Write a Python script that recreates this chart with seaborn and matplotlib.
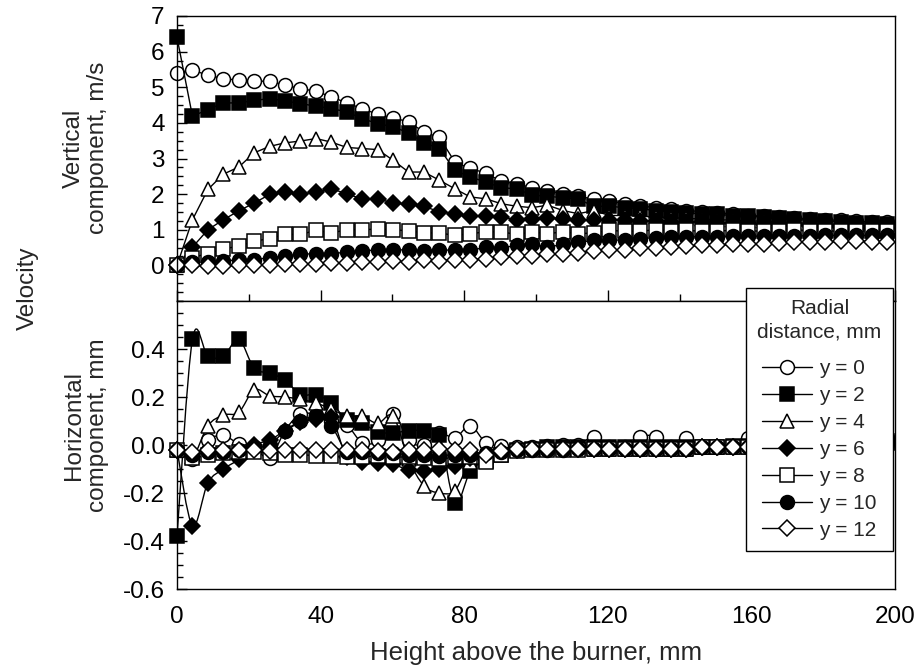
import matplotlib
matplotlib.use("Agg")
import matplotlib.pyplot as plt
import seaborn as sns
import pandas as pd
from matplotlib.ticker import MultipleLocator, FormatStrFormatter
from matplotlib.path import Path
from matplotlib.patches import PathPatch

# ---------------- data ----------------
height_mm = [0.0, 4.3, 8.6, 12.9, 17.2, 21.5, 25.8, 30.1, 34.4, 38.7, 43.0, 47.3,
             51.6, 55.9, 60.2, 64.5, 68.8, 73.1, 77.4, 81.7, 86.0, 90.3, 94.6, 98.9,
             103.2, 107.5, 111.8, 116.1, 120.4, 124.7, 129.0, 133.3, 137.6, 141.9,
             146.2, 150.5, 154.8, 159.1, 163.4, 167.7, 172.0, 176.3, 180.6, 184.9,
             189.2, 193.5, 197.8]

series_labels = ["y = 0", "y = 2", "y = 4", "y = 6", "y = 8", "y = 10", "y = 12"]

vert_y0 = [5.40, 5.48, 5.34, 5.24, 5.20, 5.17, 5.17, 5.06, 4.96, 4.89,
           4.73, 4.56, 4.40, 4.24, 4.14, 4.03, 3.74, 3.59, 2.90, 2.72,
           2.59, 2.36, 2.29, 2.18, 2.09, 2.01, 1.94, 1.86, 1.81, 1.73,
           1.67, 1.62, 1.58, 1.54, 1.51, 1.47, 1.45, 1.40, 1.38, 1.36,
           1.33, 1.30, 1.28, 1.26, 1.24, 1.22, 1.21]
vert_y2 = [6.40, 4.19, 4.37, 4.56, 4.56, 4.63, 4.68, 4.62, 4.54, 4.47,
           4.40, 4.31, 4.12, 3.98, 3.89, 3.72, 3.44, 3.28, 2.67, 2.48,
           2.34, 2.18, 2.15, 1.97, 1.94, 1.90, 1.86, 1.66, 1.66, 1.62,
           1.59, 1.54, 1.50, 1.47, 1.45, 1.43, 1.40, 1.38, 1.36, 1.34,
           1.30, 1.26, 1.24, 1.22, 1.20, 1.18, 1.16]
vert_y4 = [0.00, 1.28, 2.13, 2.56, 2.76, 3.16, 3.34, 3.44, 3.49, 3.56,
           3.46, 3.31, 3.28, 3.25, 2.95, 2.62, 2.62, 2.39, 2.15, 1.92,
           1.87, 1.73, 1.66, 1.62, 1.69, 1.54, 1.45, 1.54, 1.40, 1.40,
           1.38, 1.36, 1.34, 1.32, 1.30, 1.28, 1.27, 1.25, 1.24, 1.22,
           1.20, 1.18, 1.16, 1.14, 1.12, 1.10, 1.08]
vert_y6 = [0.00, 0.51, 1.00, 1.28, 1.53, 1.75, 1.99, 2.05, 2.01, 2.05,
           2.15, 2.01, 1.86, 1.87, 1.75, 1.72, 1.66, 1.50, 1.45, 1.38,
           1.40, 1.36, 1.28, 1.31, 1.34, 1.31, 1.26, 1.28, 1.27, 1.26,
           1.25, 1.24, 1.23, 1.22, 1.21, 1.20, 1.19, 1.18, 1.16, 1.15,
           1.14, 1.12, 1.10, 1.08, 1.06, 1.05, 1.04]
vert_y8 = [0.00, 0.22, 0.33, 0.47, 0.53, 0.68, 0.75, 0.87, 0.87, 0.98,
           0.91, 1.00, 1.00, 1.02, 1.00, 0.97, 0.91, 0.91, 0.84, 0.89,
           0.94, 0.94, 0.87, 0.94, 0.89, 0.94, 0.89, 0.91, 0.98, 0.96,
           0.96, 1.00, 0.97, 0.98, 0.96, 0.97, 0.98, 0.97, 0.96, 0.97,
           0.98, 0.97, 0.96, 0.97, 0.97, 0.96, 0.96]
vert_y10 = [0.00, 0.09, 0.09, 0.12, 0.16, 0.16, 0.22, 0.25, 0.31, 0.33,
            0.33, 0.37, 0.40, 0.44, 0.44, 0.43, 0.40, 0.44, 0.42, 0.42,
            0.51, 0.49, 0.56, 0.59, 0.51, 0.59, 0.65, 0.70, 0.70, 0.72,
            0.75, 0.78, 0.80, 0.80, 0.81, 0.81, 0.82, 0.82, 0.82, 0.83,
            0.83, 0.83, 0.84, 0.84, 0.84, 0.84, 0.85]
vert_y12 = [0.00, 0.00, -0.02, -0.02, 0.00, 0.00, 0.01, 0.03, 0.05, 0.05,
            0.07, 0.07, 0.09, 0.09, 0.12, 0.10, 0.14, 0.13, 0.16, 0.16,
            0.19, 0.23, 0.25, 0.25, 0.31, 0.33, 0.36, 0.40, 0.42, 0.44,
            0.50, 0.50, 0.51, 0.53, 0.56, 0.56, 0.59, 0.61, 0.61, 0.63,
            0.65, 0.65, 0.65, 0.68, 0.68, 0.66, 0.66]

hor_y0 = [-0.02, -0.06, 0.02, 0.04, 0.005, -0.01, -0.055, 0.06, 0.13, 0.125,
          0.10, 0.083, 0.01, 0.02, 0.13, 0.02, 0.0, 0.05, 0.03, 0.08,
          0.01, -0.005, -0.01, -0.01, -0.005, 0.0, 0.0, 0.035, -0.01, -0.01,
          0.035, 0.035, -0.01, 0.03, -0.01, -0.01, -0.005, 0.03, 0.0, 0.0,
          0.005, 0.005, 0.01, 0.01, 0.015, 0.02, 0.025]
hor_y2 = [-0.38, 0.44, 0.37, 0.37, 0.44, 0.32, 0.30, 0.27, 0.21, 0.21,
          0.175, 0.105, 0.09, 0.055, 0.05, 0.06, 0.06, 0.04, -0.24, -0.11,
          -0.065, -0.04, -0.02, -0.015, -0.01, -0.01, -0.01, -0.01, -0.01, -0.01,
          -0.01, -0.01, -0.01, -0.01, -0.01, -0.01, -0.005, -0.005, 0.0, 0.0,
          0.0, 0.005, 0.005, 0.01, 0.01, 0.01, 0.015]
hor_y4 = [-0.02, -0.05, 0.08, 0.125, 0.136, 0.23, 0.205, 0.20, 0.19, 0.175,
          0.15, 0.12, 0.12, 0.09, 0.12, -0.06, -0.17, -0.20, -0.19, -0.07,
          -0.05, -0.03, -0.02, -0.015, -0.015, -0.015, -0.015, -0.015, -0.015, -0.015,
          -0.015, -0.015, -0.015, -0.015, -0.01, -0.01, -0.01, -0.01, -0.005, -0.005,
          0.0, 0.0, 0.0, 0.005, 0.005, 0.01, 0.01]
hor_y6 = [-0.02, -0.336, -0.158, -0.10, -0.06, 0.0, 0.02, 0.06, 0.094, 0.108,
          0.115, -0.05, -0.07, -0.075, -0.08, -0.105, -0.11, -0.10, -0.088, -0.055,
          -0.04, -0.03, -0.02, -0.015, -0.015, -0.015, -0.015, -0.015, -0.015, -0.015,
          -0.015, -0.015, -0.015, -0.015, -0.01, -0.01, -0.01, -0.01, -0.005, -0.005,
          0.0, 0.0, 0.0, 0.005, 0.005, 0.01, 0.01]
hor_y8 = [-0.02, -0.055, -0.04, -0.035, -0.03, -0.03, -0.035, -0.04, -0.04, -0.045,
          -0.045, -0.05, -0.05, -0.045, -0.05, -0.05, -0.055, -0.06, -0.05, -0.05,
          -0.07, -0.04, -0.025, -0.02, -0.02, -0.02, -0.02, -0.015, -0.015, -0.015,
          -0.015, -0.015, -0.015, -0.015, -0.01, -0.01, -0.01, -0.01, -0.005, -0.005,
          0.0, 0.0, 0.0, 0.005, 0.005, 0.01, 0.01]
hor_y10 = [-0.02, -0.04, -0.03, -0.03, -0.02, -0.01, 0.0, 0.06, 0.10, 0.12,
           0.08, -0.03, -0.03, -0.035, -0.035, -0.04, -0.04, -0.045, -0.04, -0.04,
           -0.035, -0.03, -0.02, -0.02, -0.02, -0.02, -0.015, -0.015, -0.015, -0.015,
           -0.015, -0.015, -0.015, -0.015, -0.01, -0.01, -0.01, -0.01, -0.005, -0.005,
           0.0, 0.0, 0.0, 0.005, 0.005, 0.01, 0.01]
hor_y12 = [-0.02, -0.03, -0.02, -0.02, -0.02, -0.02, -0.025, -0.02, -0.02, -0.02,
           -0.02, -0.02, -0.02, -0.025, -0.03, -0.02, -0.02, -0.017, -0.02, -0.02,
           -0.04, -0.025, -0.017, -0.015, -0.015, -0.015, -0.015, -0.015, -0.015, -0.015,
           -0.015, -0.015, -0.015, -0.015, -0.01, -0.01, -0.01, -0.01, -0.005, -0.005,
           0.0, 0.0, 0.0, 0.005, 0.005, 0.01, 0.01]

vertical = [vert_y0, vert_y2, vert_y4, vert_y6, vert_y8, vert_y10, vert_y12]
horizontal = [hor_y0, hor_y2, hor_y4, hor_y6, hor_y8, hor_y10, hor_y12]

# ---------------- styles ----------------
marker_shapes = ["o", "s", "^", "D", "s", "o", "D"]
marker_faces = ["white", "black", "white", "black", "white", "black", "white"]
marker_sizes = [10, 10, 10.5, 8, 10, 10, 8.5]

sns.set_theme(style="white")
plt.rcParams["font.family"] = ["Liberation Sans", "DejaVu Sans"]
plt.rcParams["mathtext.default"] = "regular"

W, H = 919, 668
fig = plt.figure(figsize=(W / 100, H / 100), dpi=100)
fig.patch.set_facecolor("white")

x0, x1 = 177, 895
ax_top = fig.add_axes([x0 / W, 1 - 301 / H, (x1 - x0) / W, 285 / H])
ax_bot = fig.add_axes([x0 / W, 1 - 589 / H, (x1 - x0) / W, 288 / H])


def smooth_path(xs, ys):
    """Smoothed connecting curve (cubic Bezier through the data points)."""
    pts = list(zip(xs, ys))
    n = len(pts)
    verts = [pts[0]]
    codes = [Path.MOVETO]
    for i in range(n - 1):
        p0 = pts[i - 1] if i > 0 else pts[i]
        p1 = pts[i]
        p2 = pts[i + 1]
        p3 = pts[i + 2] if i + 2 < n else pts[i + 1]
        c1 = (p1[0] + (p2[0] - p0[0]) / 6, p1[1] + (p2[1] - p0[1]) / 6)
        c2 = (p2[0] - (p3[0] - p1[0]) / 6, p2[1] - (p3[1] - p1[1]) / 6)
        verts += [c1, c2, p2]
        codes += [Path.CURVE4] * 3
    return Path(verts, codes)


def draw(ax, data_list, smooth=False):
    for i, (lab, vals, m, fc, ms) in enumerate(zip(series_labels, data_list,
                                                   marker_shapes, marker_faces,
                                                   marker_sizes)):
        df = pd.DataFrame({"x": height_mm, "v": vals})
        z = 2 + i * 0.01
        if smooth:
            ax.add_patch(PathPatch(smooth_path(height_mm, vals), facecolor="none",
                                   edgecolor="black", lw=1.0, zorder=z))
        sns.lineplot(data=df, x="x", y="v", ax=ax, color="black",
                     lw=0 if smooth else 1.0,
                     marker=m, markersize=ms, markerfacecolor=fc,
                     markeredgecolor="black", markeredgewidth=1.1,
                     label=lab, sort=False, estimator=None, errorbar=None,
                     clip_on=False, legend=False, zorder=z + 0.005)


draw(ax_top, vertical)
draw(ax_bot, horizontal, smooth=True)

TICK_FS = 17.5
for ax in (ax_top, ax_bot):
    ax.set_xlim(0, 200)
    ax.set_xlabel("")
    ax.set_ylabel("")
    for sp in ax.spines.values():
        sp.set_visible(True)
        sp.set_color("black")
        sp.set_linewidth(1.0)
    ax.xaxis.set_major_locator(MultipleLocator(40))
    ax.xaxis.set_minor_locator(MultipleLocator(20))
    ax.tick_params(axis="both", which="both", direction="in", colors="black",
                   labelsize=TICK_FS, width=1.0, pad=9)
    ax.tick_params(axis="y", which="major", length=7, left=True, right=False)
    ax.tick_params(axis="y", which="minor", length=4, left=True, right=False)

ax_top.set_ylim(-1, 7)
ax_top.set_yticks([0, 1, 2, 3, 4, 5, 6, 7])
ax_top.yaxis.set_minor_locator(MultipleLocator(0.25))
ax_top.tick_params(axis="x", which="major", length=8, bottom=True, top=False,
                   labelbottom=False)
ax_top.tick_params(axis="x", which="minor", length=5, bottom=True, top=False)

ax_bot.set_ylim(-0.6, 0.6)
ax_bot.set_yticks([-0.6, -0.4, -0.2, 0.0, 0.2, 0.4])
ax_bot.yaxis.set_major_formatter(FormatStrFormatter("%.1f"))
ax_bot.yaxis.set_minor_locator(MultipleLocator(0.05))
ax_bot.set_xticks([0, 40, 80, 120, 160, 200])
ax_bot.tick_params(axis="x", which="both", length=0, bottom=True, top=False,
                   labelbottom=True, pad=12)

# axis titles
fig.text(536 / W, 1 - 653 / H, "Height above the burner, mm", ha="center",
         va="center", fontsize=18.5)
fig.text(28 / W, 1 - 288 / H, "Velocity", ha="center", va="center",
         rotation=90, fontsize=TICK_FS)
fig.text(86 / W, 1 - 148 / H, "Vertical\ncomponent, m/s", ha="center",
         va="center", rotation=90, fontsize=TICK_FS, linespacing=1.1,
         multialignment="center")
fig.text(86 / W, 1 - 425 / H, "Horizontal\ncomponent, mm", ha="center",
         va="center", rotation=90, fontsize=TICK_FS, linespacing=1.1,
         multialignment="center")

# legend
handles = ax_top.get_lines()[:len(series_labels)]
leg = ax_bot.legend(handles, series_labels, title="Radial\ndistance, mm",
                    loc="upper right", bbox_to_anchor=(893 / W, 1 - 288 / H),
                    bbox_transform=fig.transFigure, fontsize=15,
                    title_fontsize=15, frameon=True, fancybox=False,
                    framealpha=1, edgecolor="black", borderpad=0.55,
                    handlelength=2.4, handletextpad=0.35, labelspacing=0.38,
                    borderaxespad=0)
leg.get_frame().set_linewidth(1.0)
leg.get_title().set_multialignment("center")
leg.get_title().set_linespacing(1.25)
leg._legend_box.sep = 13
leg.set_zorder(20)

fig.savefig("out.png", dpi=100, facecolor="white")
